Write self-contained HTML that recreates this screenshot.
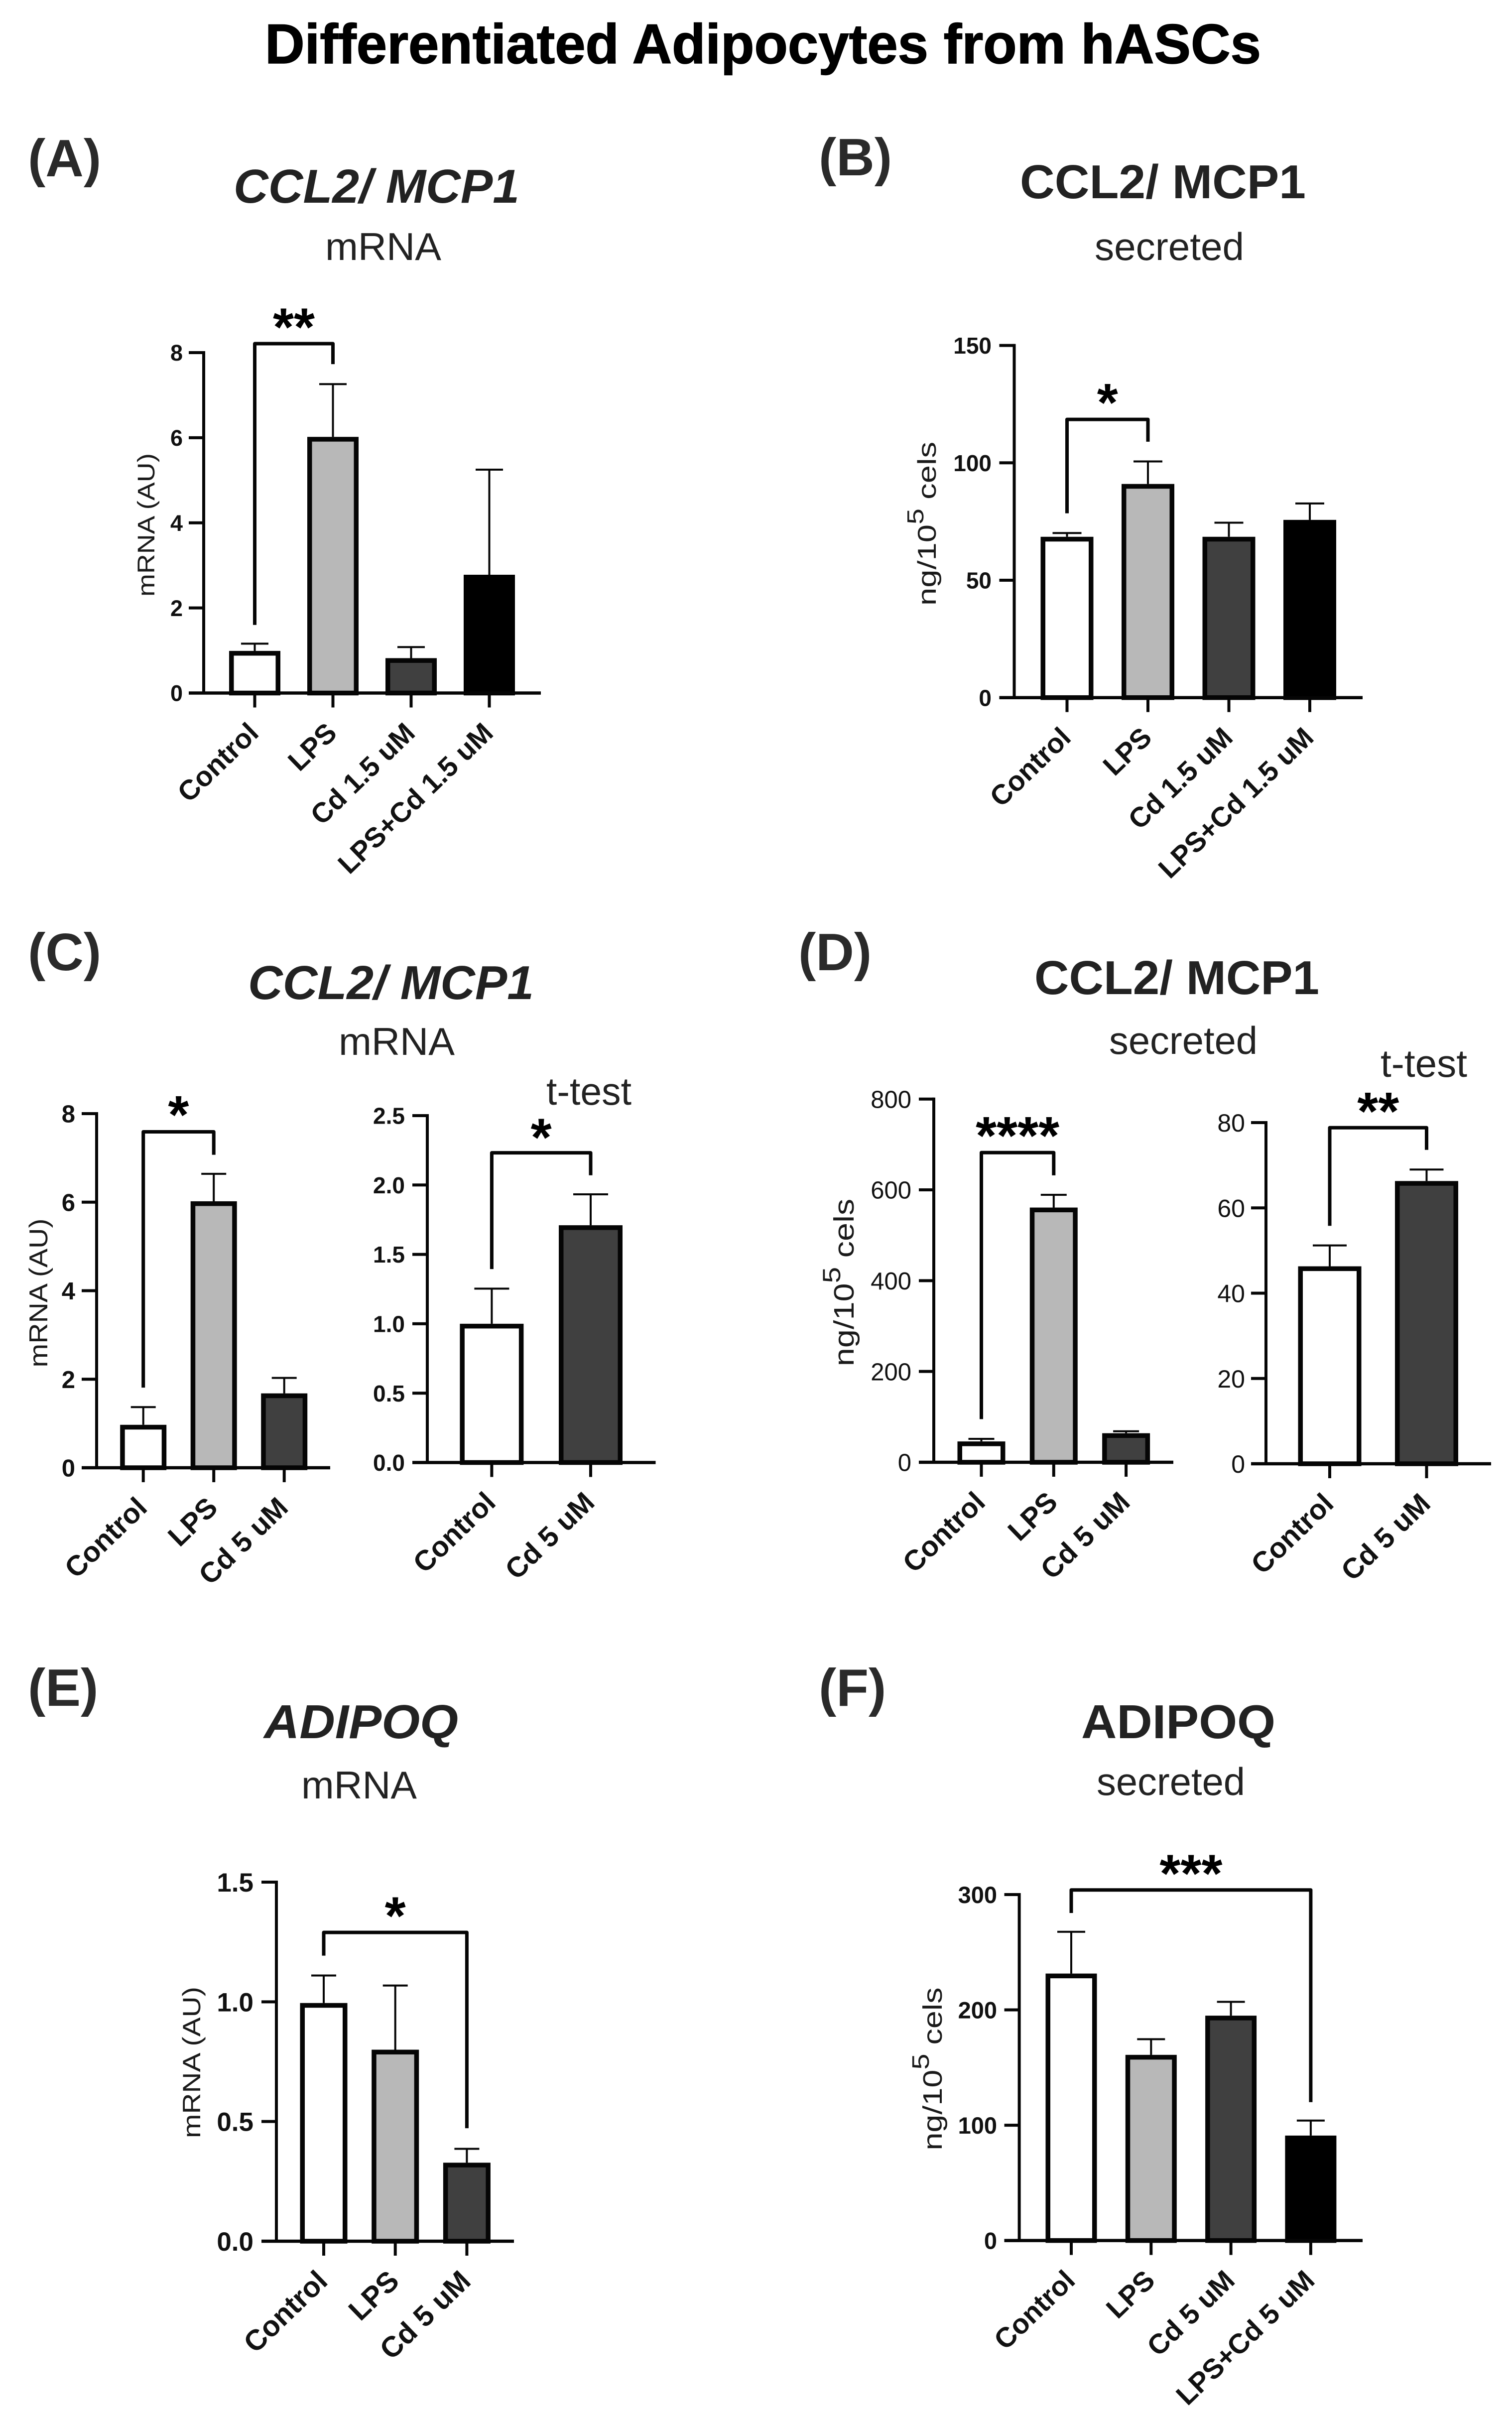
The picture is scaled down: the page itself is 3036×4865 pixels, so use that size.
<!DOCTYPE html>
<html lang="en">
<head>
<meta charset="utf-8">
<title>Differentiated Adipocytes from hASCs</title>
<style>
html,body{margin:0;padding:0;background:#fff;width:3036px;height:4865px;overflow:hidden}
svg{display:block}
text{font-family:"Liberation Sans",sans-serif}
.panel{font-weight:700;font-size:106px;fill:#2a2a2a}
.head{font-weight:700;font-size:96px;fill:#222}
.sub{font-size:78px;fill:#222}
.yt{fill:#1a1a1a}
</style>
</head>
<body>
<svg id="figure" xmlns="http://www.w3.org/2000/svg" width="3036" height="4865" viewBox="0 0 3036 4865">
<rect width="3036" height="4865" fill="#fff"/>
<text x="532" y="127" font-size="112" font-weight="700" fill="#000" stroke="#000" stroke-width="1.5" textLength="2000" lengthAdjust="spacingAndGlyphs">Differentiated Adipocytes from hASCs</text>

<text class="panel" x="56" y="354">(A)</text>
<text class="panel" x="1644" y="352">(B)</text>
<text class="panel" x="56" y="1948">(C)</text>
<text class="panel" x="1603" y="1948">(D)</text>
<text class="panel" x="56" y="3425">(E)</text>
<text class="panel" x="1644" y="3425">(F)</text>

<text class="head" x="469" y="407" font-style="italic" textLength="574" lengthAdjust="spacingAndGlyphs">CCL2/ MCP1</text>
<text class="sub" x="653" y="522" textLength="233" lengthAdjust="spacingAndGlyphs">mRNA</text>
<text class="head" x="2048" y="398" textLength="574" lengthAdjust="spacingAndGlyphs">CCL2/ MCP1</text>
<text class="sub" x="2198" y="522" textLength="300" lengthAdjust="spacingAndGlyphs">secreted</text>
<text class="head" x="498" y="2006" font-style="italic" textLength="574" lengthAdjust="spacingAndGlyphs">CCL2/ MCP1</text>
<text class="sub" x="680" y="2118" textLength="233" lengthAdjust="spacingAndGlyphs">mRNA</text>
<text class="sub" x="1097" y="2218" textLength="171" lengthAdjust="spacingAndGlyphs">t-test</text>
<text class="head" x="2077" y="1996" textLength="572" lengthAdjust="spacingAndGlyphs">CCL2/ MCP1</text>
<text class="sub" x="2227" y="2116" textLength="298" lengthAdjust="spacingAndGlyphs">secreted</text>
<text class="sub" x="2772" y="2162" textLength="174" lengthAdjust="spacingAndGlyphs">t-test</text>
<text class="head" x="530" y="3490" font-style="italic" textLength="390" lengthAdjust="spacingAndGlyphs">ADIPOQ</text>
<text class="sub" x="605" y="3611" textLength="232" lengthAdjust="spacingAndGlyphs">mRNA</text>
<text class="head" x="2171" y="3490" textLength="390" lengthAdjust="spacingAndGlyphs">ADIPOQ</text>
<text class="sub" x="2202" y="3604" textLength="298" lengthAdjust="spacingAndGlyphs">secreted</text>

<text class="yt" text-anchor="middle" font-size="48" textLength="288" lengthAdjust="spacingAndGlyphs" transform="translate(310,1054) rotate(-90)">mRNA (AU)</text>
<text class="yt" text-anchor="middle" font-size="52" transform="translate(1879,1051.5) rotate(-90) scale(1.253,1)">ng/10<tspan dy="-25" font-size="46">5</tspan><tspan dy="25"> cels</tspan></text>
<text class="yt" text-anchor="middle" font-size="52" textLength="299" lengthAdjust="spacingAndGlyphs" transform="translate(95,2596) rotate(-90)">mRNA (AU)</text>
<text class="yt" text-anchor="middle" font-size="57" transform="translate(1714,2575) rotate(-90) scale(1.17,1)">ng/10<tspan dy="-27" font-size="50">5</tspan><tspan dy="27"> cels</tspan></text>
<text class="yt" text-anchor="middle" font-size="50" textLength="304" lengthAdjust="spacingAndGlyphs" transform="translate(402,4141) rotate(-90)">mRNA (AU)</text>
<text class="yt" text-anchor="middle" font-size="54" transform="translate(1891,4154) rotate(-90) scale(1.2,1)">ng/10<tspan dy="-26" font-size="48">5</tspan><tspan dy="26"> cels</tspan></text>

<g id="charts"></g>
</svg>
<script>
/* Panel A */
const aCategories = ['Control', 'LPS', 'Cd 1.5 uM', 'LPS+Cd 1.5 uM'];
const aValues = [0.99, 6.02, 0.82, 2.78];
const aErrors = [1.16, 7.26, 1.08, 5.25];
const aTicks = [0, 2, 4, 6, 8];
const aTickLabels = ['0', '2', '4', '6', '8'];
const aBracket = [0, 1, 8.21, 1.6, 7.73];
const aStars = '**';
/* Panel B */
const bCategories = ['Control', 'LPS', 'Cd 1.5 uM', 'LPS+Cd 1.5 uM'];
const bValues = [68.5, 91, 68.5, 75.7];
const bErrors = [70.1, 100.6, 74.5, 82.7];
const bTicks = [0, 50, 100, 150];
const bTickLabels = ['0', '50', '100', '150'];
const bBracket = [0, 1, 118.5, 78.5, 109];
const bStars = '*';
/* Panel C, left */
const c1Categories = ['Control', 'LPS', 'Cd 5 uM'];
const c1Values = [0.97, 6.02, 1.68];
const c1Errors = [1.37, 6.64, 2.03];
const c1Ticks = [0, 2, 4, 6, 8];
const c1TickLabels = ['0', '2', '4', '6', '8'];
const c1Bracket = [0, 1, 7.59, 1.81, 7.07];
const c1Stars = '*';
/* Panel C, right */
const c2Categories = ['Control', 'Cd 5 uM'];
const c2Values = [1.0, 1.71];
const c2Errors = [1.253, 1.933];
const c2Ticks = [0, 0.5, 1, 1.5, 2, 2.5];
const c2TickLabels = ['0.0', '0.5', '1.0', '1.5', '2.0', '2.5'];
const c2Bracket = [0, 1, 2.232, 1.394, 2.07];
const c2Stars = '*';
/* Panel D, left */
const d1Categories = ['Control', 'LPS', 'Cd 5 uM'];
const d1Values = [45.9, 561, 64];
const d1Errors = [51.5, 589, 68.3];
const d1Ticks = [0, 200, 400, 600, 800];
const d1TickLabels = ['0', '200', '400', '600', '800'];
const d1Bracket = [0, 1, 682, 95, 632];
const d1Stars = '****';
/* Panel D, right */
const d2Categories = ['Control', 'Cd 5 uM'];
const d2Values = [46.3, 66.3];
const d2Errors = [51.2, 69];
const d2Ticks = [0, 20, 40, 60, 80];
const d2TickLabels = ['0', '20', '40', '60', '80'];
const d2Bracket = [0, 1, 78.8, 55.8, 73.6];
const d2Stars = '**';
/* Panel E */
const eCategories = ['Control', 'LPS', 'Cd 5 uM'];
const eValues = [0.995, 0.8, 0.328];
const eErrors = [1.11, 1.068, 0.386];
const eTicks = [0, 0.5, 1, 1.5];
const eTickLabels = ['0.0', '0.5', '1.0', '1.5'];
const eBracket = [0, 2, 1.29, 1.193, 0.472];
const eStars = '*';
/* Panel F */
const fCategories = ['Control', 'LPS', 'Cd 5 uM', 'LPS+Cd 5 uM'];
const fValues = [231.5, 161, 195, 91];
const fErrors = [267.7, 174.6, 207, 104];
const fTicks = [0, 100, 200, 300];
const fTickLabels = ['0', '100', '200', '300'];
const fBracket = [0, 3, 304, 284, 120];
const fStars = '***';

const WHITE = '#ffffff', GREY = '#b8b8b8', DARK = '#404040', BLACK = '#000000';

const panels = [
  {id:'a', categories:aCategories, values:aValues, errors:aErrors, ticks:aTicks, labels:aTickLabels, bracket:aBracket, stars:aStars, fills:[WHITE,GREY,DARK,BLACK],
   ax:409, y0:1391.5, yTop:708, yMax:8, right:1086, x0:511.5, step:157, bar:103, cap:55, tickFont:45, tickBold:true, catFont:56, tickEnd:367, starGap:46},
  {id:'b', categories:bCategories, values:bValues, errors:bErrors, ticks:bTicks, labels:bTickLabels, bracket:bBracket, stars:bStars, fills:[WHITE,GREY,DARK,BLACK],
   ax:2036.5, y0:1400.7, yTop:693.6, yMax:150, right:2736, x0:2142.5, step:162.5, bar:106, cap:58, tickFont:46, tickBold:true, catFont:56, tickEnd:1991, starGap:47},
  {id:'c-left', categories:c1Categories, values:c1Values, errors:c1Errors, ticks:c1Ticks, labels:c1TickLabels, bracket:c1Bracket, stars:c1Stars, fills:[WHITE,GREY,DARK],
   ax:194, y0:2947, yTop:2236, yMax:8, right:663, x0:287.7, step:141.5, bar:93, cap:50, tickFont:49, tickBold:true, catFont:57, tickEnd:151, starGap:47},
  {id:'c-right', categories:c2Categories, values:c2Values, errors:c2Errors, ticks:c2Ticks, labels:c2TickLabels, bracket:c2Bracket, stars:c2Stars, fills:[WHITE,DARK],
   ax:858, y0:2936.5, yTop:2240, yMax:2.5, right:1316.5, x0:987.4, step:198.6, bar:128, cap:70, tickFont:46, tickBold:true, catFont:57, tickEnd:813, starGap:44},
  {id:'d-left', categories:d1Categories, values:d1Values, errors:d1Errors, ticks:d1Ticks, labels:d1TickLabels, bracket:d1Bracket, stars:d1Stars, fills:[WHITE,GREY,DARK],
   ax:1875, y0:2936, yTop:2206.7, yMax:800, right:2356, x0:1970.5, step:145.3, bar:96, cap:52, tickFont:49, tickBold:false, catFont:57, tickEnd:1830, starGap:47},
  {id:'d-right', categories:d2Categories, values:d2Values, errors:d2Errors, ticks:d2Ticks, labels:d2TickLabels, bracket:d2Bracket, stars:d2Stars, fills:[WHITE,DARK],
   ax:2542, y0:2939, yTop:2254, yMax:80, right:2994, x0:2670, step:194.5, bar:127, cap:68, tickFont:50, tickBold:false, catFont:57, tickEnd:2500, starGap:46},
  {id:'e', categories:eCategories, values:eValues, errors:eErrors, ticks:eTicks, labels:eTickLabels, bracket:eBracket, stars:eStars, fills:[WHITE,GREY,DARK],
   ax:555, y0:4500, yTop:3779, yMax:1.5, right:1032, x0:650, step:143.7, bar:95, cap:50, tickFont:53, tickBold:true, catFont:58, tickEnd:509, starGap:46},
  {id:'f', categories:fCategories, values:fValues, errors:fErrors, ticks:fTicks, labels:fTickLabels, bracket:fBracket, stars:fStars, fills:[WHITE,GREY,DARK,BLACK],
   ax:2046.6, y0:4498.6, yTop:3804, yMax:300, right:2736, x0:2151, step:160.3, bar:103, cap:56, tickFont:47, tickBold:true, catFont:56, tickEnd:2002, starGap:46}
];

const NS = 'http://www.w3.org/2000/svg';
function mk(tag, attrs, parent) {
  const el = document.createElementNS(NS, tag);
  for (const k in attrs) el.setAttribute(k, attrs[k]);
  parent.appendChild(el);
  return el;
}

const root = document.getElementById('charts');
const INK = '#050505';
const BAR_STROKE = 9.5;
const AXIS_STROKE = 6;
const STAR_FONT = 108;

panels.forEach(function (p) {
  const yScale = function (v) { return p.y0 - (v / p.yMax) * (p.y0 - p.yTop); };
  const xScale = function (i) { return p.x0 + i * p.step; };

  const g = mk('g', {}, root);
  
  

  p.categories.forEach(function (cat, i) {
    const x = xScale(i);
    const yv = yScale(p.values[i]);
    const ye = yScale(p.errors[i]);

    const errLine = mk('path', {d:'M' + x + ' ' + yv + 'V' + ye + 'M' + (x - p.cap / 2) + ' ' + ye + 'H' + (x + p.cap / 2), fill:'none', stroke:INK, 'stroke-width':4}, g);
    
    

    const bar = mk('rect', {x:x - p.bar / 2 + BAR_STROKE / 2, y:yv + BAR_STROKE / 2, width:p.bar - BAR_STROKE, height:Math.max(0, p.y0 - yv - BAR_STROKE / 2), fill:p.fills[i], stroke:p.fills[i] === BLACK ? BLACK : INK, 'stroke-width':BAR_STROKE}, g);
    
    

    const tick = mk('line', {x1:x, x2:x, y1:p.y0, y2:p.y0 + 29, stroke:INK, 'stroke-width':AXIS_STROKE}, g);
    
    

    const lx = x + 11;
    const ly = p.y0 + 84;
    const label = mk('text', {'text-anchor':'end', 'font-size':p.catFont, 'font-weight':700, fill:'#111', transform:'translate(' + lx + ',' + ly + ') rotate(-44)'}, g);
    label.textContent = cat;
    
    
  });

  const yAxis = mk('line', {x1:p.ax, x2:p.ax, y1:p.yTop - 3, y2:p.y0, stroke:INK, 'stroke-width':AXIS_STROKE}, g);
  
  

  const xAxis = mk('line', {x1:p.ax - 30, x2:p.right, y1:p.y0, y2:p.y0, stroke:INK, 'stroke-width':AXIS_STROKE + 0.5}, g);
  
  

  p.ticks.forEach(function (t, i) {
    const y = yScale(t);
    const tick = mk('line', {x1:p.ax - 30, x2:p.ax, y1:y, y2:y, stroke:INK, 'stroke-width':AXIS_STROKE}, g);
    
    

    const label = mk('text', {x:p.tickEnd, y:y + p.tickFont * 0.36, 'text-anchor':'end', 'font-size':p.tickFont, 'font-weight':p.tickBold ? 700 : 400, fill:'#111'}, g);
    label.textContent = p.labels[i];
    
    
  });

  const xa = xScale(p.bracket[0]);
  const xb = xScale(p.bracket[1]);
  const yb = yScale(p.bracket[2]);
  const bracket = mk('path', {d:'M' + xa + ' ' + yScale(p.bracket[3]) + 'V' + yb + 'H' + xb + 'V' + yScale(p.bracket[4]), fill:'none', stroke:INK, 'stroke-width':7, 'stroke-linejoin':'round'}, g);
  
  

  const star = mk('text', {x:(xa + xb) / 2, y:yb - p.starGap + STAR_FONT * 0.46, 'text-anchor':'middle', 'font-size':STAR_FONT, 'font-weight':700, fill:'#000'}, g);
  star.textContent = p.stars;
  
  
});
</script>
</body>
</html>
